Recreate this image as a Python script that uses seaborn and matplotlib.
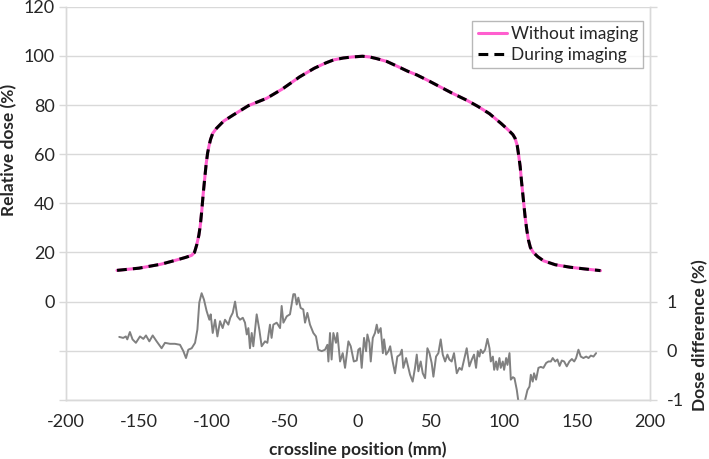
import seaborn as sns
import matplotlib.pyplot as plt

# dose profile (relative dose %, crossline position mm)
prof_x = [-165, -150, -135, -125, -118, -114, -112, -110.5, -109, -108, -107, -106, -105,
          -104, -103, -102, -101, -99.5, -97, -92, -85.4, -75, -62.5, -52, -40, -30, -22,
          -16.8, -10, -4, 3, 8, 13, 19.6, 28, 34, 40.2, 48, 56, 64, 74.4, 82, 90, 98, 103,
          106, 107.5, 109, 110, 111, 112, 113.2, 114.3, 115.5, 116.7, 118, 120, 123, 127,
          135, 145, 155, 166]
prof_y = [12.7, 13.6, 15.2, 16.8, 18.0, 18.8, 20.0, 23.0, 27.0, 31.0, 37.0, 44.0, 50.0,
          56.0, 60.5, 63.5, 66.0, 68.5, 70.5, 73.5, 76.0, 79.8, 82.8, 86.5, 91.5, 95.0, 97.2,
          98.4, 99.2, 99.6, 99.9, 99.6, 98.9, 97.8, 95.5, 93.8, 92.3, 90.0, 87.5, 85.0, 82.0,
          79.5, 76.5, 72.5, 69.8, 68.0, 66.5, 63.5, 59.5, 55.0, 48.5, 41.5, 35.0, 29.3, 25.0,
          22.0, 20.0, 18.3, 16.6, 15.0, 14.0, 13.3, 12.6]

# dose difference (%)
diff_x = [-163.5, -160.8, -159, -158, -156.2, -154.4, -152.1, -149.3, -147, -145.2, -142.9,
          -140.6, -137.9, -134.5, -132.2, -128.8, -125.4, -121.9, -119.6, -117.8, -116.2,
          -113.9, -111.6, -110, -108.7, -107.1, -105.5, -103.7, -101.8, -100.9, -99.5, -97.9,
          -96.3, -94.5, -92.7, -91.1, -88.8, -87.5, -85.8, -84.2, -82.7, -80.8, -78.9, -77.4,
          -76.2, -75.1, -74, -72.8, -71.7, -69.4, -67.6, -66, -63.7, -62.1, -60.3, -59.2, -58,
          -55.7, -53.4, -52.3, -51.1, -48.8, -46.6, -44.3, -43.2, -42, -40.9, -39.3, -37.5,
          -36.3, -34.7, -32.9, -30.6, -28.8, -27.2, -24.9, -22.6, -21, -20.3, -19.2, -18.1,
          -16.9, -15.1, -14.2, -12.3, -10.5, -8.9, -6.6, -5, -2.9, -0.9, 0.2, 1.4, 2.5, 4.1,
          5.5, 6.4, 7.8, 8.7, 10.1, 11.6, 12.8, 13.9, 15.5, 17, 17.8, 19.2, 20.8, 22, 23.7,
          25.3, 26.9, 28.8, 30, 31, 32.9, 34.5, 35.6, 37.4, 39, 40.2, 41.3, 42.9, 44.3, 45.9,
          47.5, 48.9, 50.4, 51.6, 53.4, 55, 56.6, 58, 59.6, 61.2, 62.5, 64.1, 65.7, 67.6,
          69.4, 71, 72.6, 74.4, 76.2, 77.9, 79.4, 80.8, 82, 83.1, 84, 85.4, 87, 88.6, 90,
          90.9, 92.3, 93.2, 94.5, 95.4, 96.8, 97.7, 99.1, 100, 101.4, 102.3, 103.7, 104.6,
          106, 107.1, 108.7, 109.8, 111, 112.5, 114.4, 116, 117.4, 118.3, 119.6, 120.5, 121.9,
          123.5, 125.1, 126.9, 128.8, 130.4, 132, 133.3, 135, 136.5, 138, 139.5, 141.1, 142.9,
          144.7, 146.4, 148, 149.3, 150.9, 152.5, 154.3, 156.2, 157.8, 159.4, 161.2, 163]
diff_y = [0.28, 0.26, 0.29, 0.23, 0.38, 0.23, 0.16, 0.29, 0.24, 0.31, 0.19, 0.31, 0.19, 0.05,
          0.16, 0.14, 0.14, 0.12, -0.01, -0.15, 0.02, 0.05, 0.16, 0.43, 0.98, 1.17, 1.04, 0.81,
          0.63, 0.74, 0.36, 0.63, 0.29, 0.60, 0.46, 0.63, 0.53, 0.67, 0.77, 1.0, 0.70, 0.63,
          0.67, 0.57, 0.33, 0.46, 0.05, 0.36, 0.09, 0.74, 0.43, 0.09, 0.19, 0.16, 0.53, 0.26,
          0.53, 0.57, 0.46, 0.91, 0.57, 0.70, 0.74, 1.15, 1.15, 0.94, 1.08, 0.87, 0.84, 0.57,
          0.77, 0.53, 0.36, 0.29, 0.02, -0.01, 0.02, 0.12, -0.22, 0.36, -0.18, 0.36, 0.16, 0.36,
          -0.22, -0.05, -0.35, 0.19, 0.09, -0.22, -0.20, 0.02, 0.05, -0.35, 0.26, -0.01, 0.33,
          0.16, -0.22, 0.26, 0.36, 0.53, 0.36, 0.46, -0.05, 0.23, -0.08, -0.01, 0.09, -0.22,
          -0.46, -0.12, -0.08, 0.02, -0.35, -0.15, -0.35, -0.49, -0.63, -0.35, -0.08, -0.42,
          -0.22, -0.46, -0.56, 0.05, -0.05, -0.25, -0.53, -0.12, -0.05, 0.23, -0.08, -0.22,
          -0.08, -0.18, -0.22, -0.05, -0.46, -0.35, -0.39, -0.18, 0.05, -0.32, -0.18, -0.08,
          -0.35, -0.01, -0.12, 0.02, -0.05, 0.02, 0.24, 0.05, -0.22, -0.12, -0.39, -0.22, -0.39,
          -0.15, -0.35, -0.22, -0.39, -0.15, -0.29, -0.05, -0.59, -0.54, -0.56, -0.80, -1.04,
          -1.6, -1.5, -1.0, -0.80, -0.73, -0.49, -0.63, -0.46, -0.59, -0.35, -0.33, -0.35,
          -0.25, -0.22, -0.22, -0.15, -0.22, -0.18, -0.31, -0.20, -0.22, -0.32, -0.22, -0.17,
          -0.22, -0.15, 0.02, -0.12, -0.15, -0.12, -0.15, -0.10, -0.12, -0.05]

left_ticks = [-40, -20, 0, 20, 40, 60, 80, 100, 120]
left_labels = ['', '', '0', '20', '40', '60', '80', '100', '120']
right_ticks = [-1, 0, 1, 2, 3, 4, 5, 6, 7]
right_labels = ['-1', '0', '1', '', '', '', '', '', '']
x_ticks = [-200, -150, -100, -50, 0, 50, 100, 150, 200]

sns.set_style('white')
plt.rcParams['font.family'] = ['Lato', 'DejaVu Sans']
grid_c = '#d9d9d9'
txt_c = '#262626'

fig = plt.figure(figsize=(7.09, 4.59), dpi=100)
ax = fig.add_axes([0.093, 0.129, 0.824, 0.856])
ax2 = ax.twinx()

sns.lineplot(x=prof_x, y=prof_y, ax=ax, color='#ff5fcf', lw=2.2, label='Without imaging')
sns.lineplot(x=prof_x, y=prof_y, ax=ax, color='black', lw=2.2, label='During imaging')
ax.lines[1].set_dashes([3.2, 2])
sns.lineplot(x=diff_x, y=diff_y, ax=ax2, color='#808080', lw=1.4)

ax.set_xlim(-200, 200)
ax.set_ylim(-40, 120)
ax2.set_ylim(-1, 7)
ax.set_xticks(x_ticks)
ax.set_xticklabels([str(t) for t in x_ticks])
ax.set_yticks(left_ticks)
ax.set_yticklabels(left_labels)
ax2.set_yticks(right_ticks)
ax2.set_yticklabels(right_labels)

ax.yaxis.grid(True, color=grid_c, lw=1)
ax.set_axisbelow(True)
for a in (ax, ax2):
    for s in a.spines.values():
        s.set_color(grid_c)
        s.set_linewidth(1)
    a.spines['top'].set_visible(False)
    a.tick_params(axis='both', length=5, width=1, color=grid_c, labelsize=13, labelcolor=txt_c)
ax.tick_params(axis='y', pad=3)
ax2.tick_params(axis='y', pad=7)
ax.tick_params(axis='x', pad=5)

ax.set_xlabel('crossline position (mm)', fontsize=12.5, fontweight='bold', color=txt_c)
ax.set_ylabel('Relative dose (%)', fontsize=12.5, fontweight='bold', color=txt_c)
ax2.set_ylabel('Dose difference (%)', fontsize=12.5, fontweight='bold', color=txt_c)
ax.yaxis.set_label_coords(-0.084, 0.636)
ax2.yaxis.set_label_coords(1.072, 0.165)
ax.xaxis.set_label_coords(0.5, -0.105)

leg = ax.legend(loc='upper right', bbox_to_anchor=(0.988, 0.965), fontsize=12.5, frameon=True,
                fancybox=False, handlelength=1.7, handletextpad=0.2, borderpad=0.3,
                labelspacing=0.3, borderaxespad=0)
leg.get_frame().set_edgecolor('#a6a6a6')
leg.get_frame().set_linewidth(1)
for t in leg.get_texts():
    t.set_color(txt_c)

fig.savefig('out.png', dpi=100)
